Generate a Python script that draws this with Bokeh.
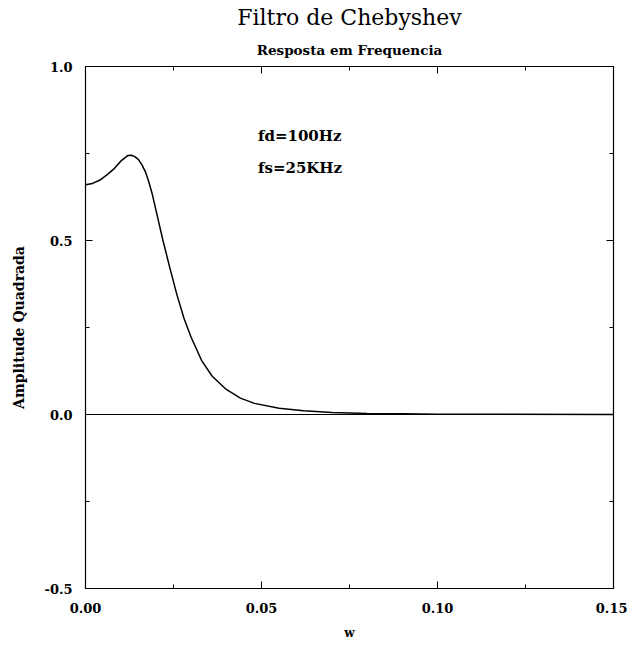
from bokeh.plotting import figure
from bokeh.models import (Title, Span, Label, LinearAxis, FixedTicker,
                          PrintfTickFormatter, Range1d)
from bokeh.embed import file_html
from bokeh.resources import INLINE

# frequency (normalised) and squared amplitude
w = [0.000, 0.002, 0.004, 0.006, 0.008, 0.010, 0.012, 0.013, 0.014, 0.015, 0.016,
     0.017, 0.018, 0.019, 0.020, 0.021, 0.022, 0.024, 0.026, 0.028, 0.030,
     0.033, 0.036, 0.040, 0.044, 0.048, 0.055, 0.062, 0.070, 0.080, 0.090,
     0.100, 0.120, 0.150]
amp = [0.660, 0.664, 0.673, 0.688, 0.705, 0.728, 0.744, 0.745, 0.741, 0.733, 0.718,
       0.698, 0.668, 0.632, 0.588, 0.544, 0.500, 0.420, 0.343, 0.276, 0.222,
       0.155, 0.110, 0.072, 0.047, 0.032, 0.018, 0.011, 0.006, 0.003, 0.002,
       0.001, 0.0005, 0.0002]

x_ticks = [0.0, 0.05, 0.10, 0.15]
x_minor = [0.025, 0.075, 0.125]
y_ticks = [-0.5, 0.0, 0.5, 1.0]
y_minor = [-0.25, 0.25, 0.75]

title_main = "Filtro de Chebyshev"
title_sub = "Resposta em Frequencia"
x_label = "w"
y_label = "Amplitude Quadrada"
notes = ["fd=100Hz", "fs=25KHz"]

FONT = "DejaVu Serif"

p = figure(width=627, height=646, output_backend="svg", toolbar_location=None,
           x_range=Range1d(0, 0.15), y_range=Range1d(-0.5, 1.0),
           min_border_left=85, min_border_right=14, min_border_top=64,
           min_border_bottom=58,
           title=Title(text=title_main, align="center", text_font=FONT,
                       text_font_size="22px", text_font_style="normal",
                       text_color="black", standoff=4))
p.grid.visible = False
p.outline_line_color = "black"
p.outline_line_width = 1.2

xt = FixedTicker(ticks=x_ticks, minor_ticks=x_minor)
yt = FixedTicker(ticks=y_ticks, minor_ticks=y_minor)

def style_axis(ax, labels=True):
    ax.major_tick_in = 7
    ax.major_tick_out = 0
    ax.minor_tick_in = 4
    ax.minor_tick_out = 0
    ax.axis_line_color = "black"
    ax.major_tick_line_color = "black"
    ax.minor_tick_line_color = "black"
    ax.major_label_text_font = FONT
    ax.major_label_text_font_style = "bold"
    if labels:
        ax.major_label_text_color = "black"
        ax.major_label_text_font_size = "13px"
    else:
        ax.major_label_text_color = None
        ax.major_label_text_font_size = "1px"
        ax.major_label_standoff = 0

xa = p.xaxis[0]
xa.ticker = xt
xa.formatter = PrintfTickFormatter(format="%.2f")
style_axis(xa)
xa.major_label_standoff = 14
xa.axis_label = x_label
xa.axis_label_text_font = FONT
xa.axis_label_text_font_style = "bold"
xa.axis_label_text_font_size = "12px"
xa.axis_label_text_color = "black"
xa.axis_label_standoff = 10

ya = p.yaxis[0]
ya.ticker = yt
ya.formatter = PrintfTickFormatter(format="%.1f")
style_axis(ya)
ya.major_label_standoff = 13
ya.axis_label = y_label
ya.axis_label_text_font = FONT
ya.axis_label_text_font_style = "bold"
ya.axis_label_text_font_size = "14px"
ya.axis_label_text_color = "black"
ya.axis_label_standoff = 14

top = LinearAxis(ticker=xt)
style_axis(top, labels=False)
p.add_layout(top, "above")
p.add_layout(Title(text=title_sub, align="center", text_font=FONT,
                   text_font_size="13.5px", text_font_style="bold",
                   text_color="black", standoff=17), "above")
right = LinearAxis(ticker=yt)
style_axis(right, labels=False)
p.add_layout(right, "right")

p.add_layout(Span(location=0, dimension="width", line_color="black", line_width=1))

p.line(w, amp, line_color="black", line_width=1.5)

for txt, yy in zip(notes, [0.80, 0.707]):
    p.add_layout(Label(x=0.049, y=yy, text=txt, text_font=FONT, text_font_style="bold",
                       text_font_size="15px", text_baseline="middle", text_align="left",
                       text_color="black"))

open("out.html", "w").write(file_html(p, INLINE))
